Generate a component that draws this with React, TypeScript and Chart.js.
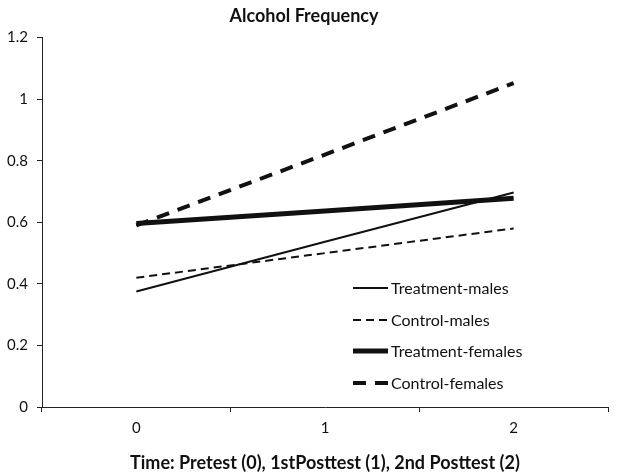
import React, { useEffect, useRef } from "react";
import { Chart, registerables } from "chart.js";

Chart.register(...registerables);

const categories = ["0", "1", "2"];
const yTicks = [0, 0.2, 0.4, 0.6, 0.8, 1, 1.2];
const treatmentMales = [0.375, 0.537, 0.697];
const controlMales = [0.42, 0.5, 0.58];
const treatmentFemales = [0.596, 0.637, 0.678];
const controlFemales = [0.59, 0.82, 1.052];
const seriesNames = ["Treatment-males", "Control-males", "Treatment-females", "Control-females"];

const FONT = "Lato";
const INK = "#111";

const insideLegend = {
  id: "insideLegend",
  afterDraw(chart: any) {
    const ctx = chart.ctx;
    const x0 = 353;
    const x1 = 388;
    const ys = [288, 320, 351, 383];
    ctx.save();
    chart.data.datasets.forEach((ds: any, i: number) => {
      const y = ys[i];
      ctx.beginPath();
      ctx.strokeStyle = ds.borderColor;
      ctx.lineWidth = ds.borderWidth;
      ctx.setLineDash(ds.borderDash || []);
      ctx.lineCap = "butt";
      ctx.moveTo(x0, y);
      ctx.lineTo(x1, y);
      ctx.stroke();
      ctx.setLineDash([]);
      ctx.fillStyle = INK;
      ctx.font = `16px ${FONT}`;
      ctx.textBaseline = "middle";
      ctx.textAlign = "left";
      ctx.fillText(ds.label, x1 + 3, y + 1);
    });
    ctx.restore();
  },
};

export default function App() {
  const ref = useRef<HTMLCanvasElement>(null);
  useEffect(() => {
    if (!ref.current) return;
    const chart = new Chart(ref.current, {
      type: "line",
      data: {
        labels: categories,
        datasets: [
          { label: seriesNames[0], data: treatmentMales, borderColor: "#111", borderWidth: 2, borderDash: [] },
          { label: seriesNames[1], data: controlMales, borderColor: "#111", borderWidth: 2, borderDash: [8, 5] },
          { label: seriesNames[2], data: treatmentFemales, borderColor: "#111", borderWidth: 5, borderDash: [] },
          { label: seriesNames[3], data: controlFemales, borderColor: "#111", borderWidth: 4, borderDash: [13, 9] },
        ],
      },
      options: {
        animation: false,
        responsive: false,
        layout: { padding: { left: 0, right: 10, top: 0, bottom: 0 } },
        elements: { point: { radius: 0 }, line: { tension: 0, borderCapStyle: "butt" } },
        plugins: {
          legend: { display: false },
          tooltip: { enabled: false },
          title: {
            display: true,
            text: "Alcohol Frequency",
            color: INK,
            font: { family: FONT, size: 18, weight: "bold", lineHeight: 1.2 },
            padding: { top: 5, bottom: 11 },
          },
        },
        scales: {
          x: {
            type: "category",
            offset: true,
            grid: { display: true, offset: true, drawOnChartArea: false, drawTicks: true, tickLength: 5, color: "#222" },
            border: { display: true, color: "#222", width: 1 },
            ticks: { color: INK, font: { family: FONT, size: 15 }, padding: 7 },
            title: {
              display: true,
              text: "Time: Pretest (0), 1stPosttest (1), 2nd Posttest (2)",
              color: INK,
              font: { family: FONT, size: 18, weight: "bold", lineHeight: 1.2 },
              padding: { top: 0, bottom: 2 },
            },
            afterFit: (s: any) => { s.height = 69; },
          },
          y: {
            min: 0,
            max: 1.2,
            afterBuildTicks: (s: any) => { s.ticks = yTicks.map((v) => ({ value: v })); },
            grid: { display: true, drawOnChartArea: false, drawTicks: true, tickLength: 5, color: "#222" },
            border: { display: true, color: "#222", width: 1 },
            ticks: { color: INK, font: { family: FONT, size: 15 }, padding: 9, callback: (v: any) => String(Math.round(Number(v) * 10) / 10) },
            afterFit: (s: any) => { s.width = 42; },
          },
        },
      },
      plugins: [insideLegend],
    });
    return () => chart.destroy();
  }, []);
  return (
    <div style={{ position: "fixed", left: 0, top: 0, width: 618, height: 476, background: "#fff" }}>
      <canvas ref={ref} width={618} height={476} />
    </div>
  );
}
